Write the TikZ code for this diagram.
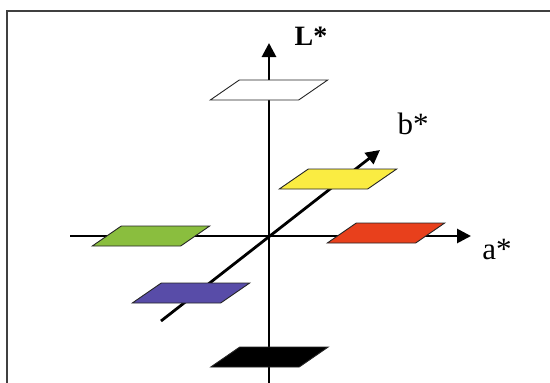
\documentclass[tikz,border=0pt]{standalone}
\usepackage{fontspec}
\setmainfont{Liberation Serif}
\usetikzlibrary{arrows.meta,calc}
\definecolor{labyellow}{RGB}{250,236,66}
\definecolor{labred}{RGB}{232,64,28}
\definecolor{labgreen}{RGB}{138,190,62}
\definecolor{labblue}{RGB}{88,76,168}
\tikzset{axis/.style={line width=2.8pt,-{Triangle[length=14pt,width=14pt]}}}
\tikzset{plane/.style={draw=black!85,line width=0.9pt,line join=miter}}
\tikzset{axislabel/.style={font=\fontsize{31}{31}\selectfont,inner sep=0pt}}
% one flat patch: name of centre, fill colour
\newcommand{\labplane}[2]{%
  \draw[plane,fill=#2] ($(#1)+(-29.7,-10)$) -- ($(#1)+(58.7,-10)$)
        -- ($(#1)+(29.7,10)$) -- ($(#1)+(-58.7,10)$) -- cycle;}

\begin{document}
\begin{tikzpicture}[x=1pt,y=-1pt]
          \useasboundingbox (0,0) rectangle (550,383);
          \draw[black!75,line width=1.6pt] (7,383) -- (7,11) -- (550,11);
          \coordinate (o) at (269,236);
          \coordinate (lbot) at (269,386);
          \coordinate (ltop) at (269,43);
          \coordinate (aleft) at (70,236);
          \coordinate (aright) at (471,236);
          \coordinate (bbot) at (161,321);
          \coordinate (btop) at (380,150);
          \draw[axis] (lbot) -- (ltop);
          \draw[axis] (aleft) -- (aright);
          \draw[axis] (bbot) -- (btop);
          \node[axislabel,font=\fontsize{28}{28}\selectfont\bfseries] (lstar) at (311,36) {L*};
          \node[axislabel] (bstar) at (413,124) {b*};
          \node[axislabel] (astar) at (497,249) {a*};
          \coordinate (white) at (269,90);
          \coordinate (yellow) at (338,179);
          \coordinate (green) at (151,236);
          \coordinate (red) at (386,233);
          \coordinate (blue) at (191,293);
          \coordinate (black) at (269.5,357);
          \labplane{white}{white}
          \labplane{yellow}{labyellow}
          \labplane{green}{labgreen}
          \labplane{red}{labred}
          \labplane{blue}{labblue}
          \labplane{black}{black}
        \end{tikzpicture}
\end{document}
